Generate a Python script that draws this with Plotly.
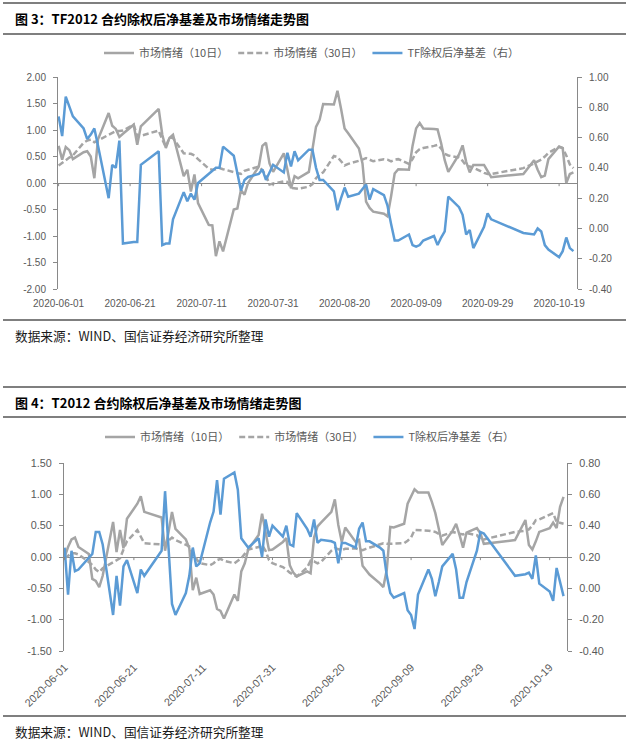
import plotly.graph_objects as go

# ---------------- data ----------------
dates = [
    "2020-06-01", "2020-06-02", "2020-06-03", "2020-06-04", "2020-06-05",
    "2020-06-08", "2020-06-09", "2020-06-10", "2020-06-11", "2020-06-12",
    "2020-06-15", "2020-06-16", "2020-06-17", "2020-06-18", "2020-06-19",
    "2020-06-22", "2020-06-23", "2020-06-24", "2020-06-29", "2020-06-30",
    "2020-07-01", "2020-07-02", "2020-07-03", "2020-07-06", "2020-07-07",
    "2020-07-08", "2020-07-09", "2020-07-10", "2020-07-13", "2020-07-14",
    "2020-07-15", "2020-07-16", "2020-07-17", "2020-07-20", "2020-07-21",
    "2020-07-22", "2020-07-23", "2020-07-24", "2020-07-27", "2020-07-28",
    "2020-07-29", "2020-07-30", "2020-07-31", "2020-08-03", "2020-08-04",
    "2020-08-05", "2020-08-06", "2020-08-07", "2020-08-10", "2020-08-11",
    "2020-08-12", "2020-08-13", "2020-08-14", "2020-08-17", "2020-08-18",
    "2020-08-19", "2020-08-20", "2020-08-21", "2020-08-24", "2020-08-25",
    "2020-08-26", "2020-08-27", "2020-08-28", "2020-08-31", "2020-09-01",
    "2020-09-02", "2020-09-03", "2020-09-04", "2020-09-07", "2020-09-08",
    "2020-09-09", "2020-09-10", "2020-09-11", "2020-09-14", "2020-09-15",
    "2020-09-16", "2020-09-17", "2020-09-18", "2020-09-21", "2020-09-22",
    "2020-09-23", "2020-09-24", "2020-09-25", "2020-09-28", "2020-09-29",
    "2020-09-30", "2020-10-09", "2020-10-12", "2020-10-13", "2020-10-14",
    "2020-10-15", "2020-10-16", "2020-10-19", "2020-10-20", "2020-10-21",
    "2020-10-22", "2020-10-23",
]

# Chart 1: TF2012
tf_mood10 = [
    0.70, 0.44, 0.68, 0.62, 0.45, 0.58, 0.60, 0.50, 0.09, 0.82,
    1.32, 1.08, 1.02, 0.87, 0.93, 1.10, 0.72, 1.07, 1.40, 0.91,
    0.66, 0.85, 0.91, 0.13, 0.25, -0.16, 0.16, -0.38, -0.79, -0.80,
    -1.38, -1.10, -1.29, -0.50, -0.48, -0.13, -0.22, 0.00, 0.31, 0.70,
    0.76, 0.37, 0.21, 0.56, 0.25, -0.10, 0.13, 0.09, 0.21, 0.60,
    1.06, 1.19, 1.49, 1.48, 1.74, 1.40, 1.03, 0.94, 0.65, 0.37,
    -0.35, -0.47, -0.54, -0.58, -0.63, -0.25, 0.18, 0.26, 0.25, 0.70,
    1.03, 1.13, 1.03, 1.02, 1.01, 0.75, 0.43, 0.21, 0.54, 0.71,
    0.40, 0.20, 0.34, 0.34, 0.22, 0.11, 0.17, 0.43, 0.25, 0.11,
    0.14, 0.45, 0.69, 0.66, 0.00, 0.17, 0.20,
]
tf_mood30 = [
    0.33, 0.38, 0.44, 0.48, 0.52, 0.76, 0.80, 0.82, 0.77, 0.80,
    0.91, 0.95, 0.98, 0.98, 0.99, 1.10, 0.88, 0.89, 0.99, 0.82,
    0.68, 0.86, 0.85, 0.56, 0.55, 0.55, 0.52, 0.45, 0.27, 0.25,
    0.26, 0.28, 0.26, 0.21, 0.18, 0.17, 0.23, 0.25, 0.31, 0.24,
    0.15, -0.03, -0.01, 0.03, 0.02, -0.09, -0.10, -0.11, -0.07, -0.02,
    0.09, 0.16, 0.20, 0.51, 0.49, 0.42, 0.33, 0.36, 0.41, 0.44,
    0.47, 0.44, 0.41, 0.45, 0.44, 0.41, 0.44, 0.45, 0.36, 0.45,
    0.58, 0.64, 0.66, 0.70, 0.72, 0.65, 0.55, 0.52, 0.48, 0.42,
    0.32, 0.31, 0.29, 0.19, 0.17, 0.17, 0.28, 0.37, 0.40, 0.44,
    0.50, 0.57, 0.68, 0.66, 0.52, 0.35, 0.28,
]
tf_basis = [
    0.74, 0.61, 0.87, 0.80, 0.74, 0.66, 0.59, 0.62, 0.66, 0.55,
    0.20, 0.42, 0.40, 0.58, -0.10, -0.09, -0.09, 0.42, 0.51, -0.11,
    -0.10, -0.10, 0.06, 0.24, 0.18, 0.23, 0.19, 0.30, 0.36, 0.38,
    0.40, 0.40, 0.54, 0.48, 0.37, 0.25, 0.32, 0.34, 0.36, 0.39,
    0.32, 0.37, 0.42, 0.37, 0.50, 0.41, 0.51, 0.45, 0.52, 0.52,
    0.40, 0.32, 0.32, 0.245, 0.12, 0.20, 0.27, 0.21, 0.23, 0.26,
    0.29, 0.19, 0.26, 0.22, 0.15, 0.03, -0.08, -0.08, -0.04, -0.11,
    -0.12, -0.11, -0.08, -0.05, -0.11, -0.06, -0.02, 0.21, 0.14, 0.09,
    -0.04, -0.01, -0.13, 0.01, 0.10, 0.06, -0.03, -0.04, 0.00, -0.02,
    -0.11, -0.14, -0.19, -0.15, -0.06, -0.13, -0.15,
]

# Chart 2: T2012
t_mood10 = [
    0.00, 0.16, 0.28, 0.31, 0.16, 0.05, -0.35, -0.38, -0.48, -0.30,
    0.56, 0.08, 0.43, 0.14, 0.61, 0.85, 0.97, 0.72, 0.63, 0.10,
    0.40, 0.72, 0.45, 0.28, 0.14, -0.53, -0.33, -0.59, -0.53, -0.60,
    -0.83, -0.86, -0.98, -0.60, -0.70, -0.23, -0.10, 0.12, 0.35, 0.69,
    0.40, 0.11, 0.12, 0.24, 0.30, -0.13, -0.25, -0.31, -0.23, -0.26,
    0.31, 0.49, 0.55, 0.72, 0.92, 0.51, 0.24, 0.47, 0.24, 0.27,
    -0.14, -0.22, -0.28, -0.42, -0.48, -0.20, 0.48, 0.47, 0.53, 0.85,
    0.98, 1.08, 1.03, 1.03, 0.88, 0.70, 0.45, 0.19, 0.42, 0.53,
    0.35, 0.15, 0.39, 0.46, 0.38, 0.21, 0.27, 0.59, 0.19, 0.12,
    0.25, 0.40, 0.46, 0.55, 0.46, 0.80, 0.96,
]
t_mood30 = [
    -0.02, 0.02, 0.06, 0.06, 0.04, -0.08, -0.13, -0.20, -0.24, -0.18,
    -0.08, -0.05, -0.02, 0.12, 0.25, 0.43, 0.33, 0.22, 0.20, 0.19,
    0.26, 0.31, 0.27, 0.20, 0.17, 0.05, -0.02, -0.10, -0.13, -0.10,
    -0.05, -0.03, -0.06, -0.10, -0.06, -0.02, 0.05, 0.12, 0.16, 0.19,
    0.10, -0.05, -0.10, -0.16, -0.20, -0.25, -0.28, -0.31, -0.17, -0.06,
    -0.07, -0.10, -0.08, 0.10, 0.14, 0.13, 0.11, 0.13, 0.14, 0.12,
    0.11, 0.13, 0.15, 0.20, 0.22, 0.21, 0.21, 0.21, 0.22, 0.26,
    0.31, 0.43, 0.43, 0.42, 0.41, 0.40, 0.37, 0.34, 0.40, 0.38,
    0.37, 0.36, 0.38, 0.35, 0.27, 0.28, 0.40, 0.42, 0.44, 0.50,
    0.59, 0.60, 0.67, 0.70, 0.56, 0.55, 0.53,
]
t_basis = [
    0.26, -0.04, 0.24, 0.11, 0.12, 0.20, 0.22, 0.36, 0.36, 0.28,
    -0.17, 0.08, -0.11, 0.14, 0.18, -0.03, 0.12, 0.08, 0.24, 0.62,
    0.26, -0.10, -0.17, -0.03, 0.08, 0.26, 0.14, 0.16, 0.42, 0.49,
    0.69, 0.47, 0.70, 0.74, 0.63, 0.32, 0.29, 0.26, 0.32, 0.20,
    0.44, 0.33, 0.40, 0.33, 0.40, 0.28, 0.27, 0.48, 0.38, 0.33,
    0.44, 0.29, 0.31, 0.30, 0.29, 0.16, 0.29, 0.29, 0.26, 0.38,
    0.42, 0.30, 0.30, 0.26, 0.24, 0.08, -0.03, -0.06, -0.03, -0.14,
    -0.17, -0.26, -0.04, 0.12, 0.06, -0.05, 0.04, 0.14, 0.22, 0.12,
    -0.06, -0.06, 0.04, 0.24, 0.36, 0.35, 0.08, 0.09, 0.10, 0.06,
    0.21, 0.03, -0.02, -0.08, 0.13, 0.04, -0.05,
]

tick_dates = ["2020-06-01", "2020-06-21", "2020-07-11", "2020-07-31",
              "2020-08-20", "2020-09-09", "2020-09-29", "2020-10-19"]
left1_ticks = [-2.0, -1.5, -1.0, -0.5, 0.0, 0.5, 1.0, 1.5, 2.0]
right1_ticks = [-0.4, -0.2, 0.0, 0.2, 0.4, 0.6, 0.8, 1.0]
left2_ticks = [-1.5, -1.0, -0.5, 0.0, 0.5, 1.0, 1.5]
right2_ticks = [-0.4, -0.2, 0.0, 0.2, 0.4, 0.6, 0.8]

names1 = ["市场情绪（10日）", "市场情绪（30日）", "TF除权后净基差（右）"]
names2 = ["市场情绪（10日）", "市场情绪（30日）", "T除权后净基差（右）"]
title1 = "图 3：TF2012 合约除权后净基差及市场情绪走势图"
title2 = "图 4：T2012 合约除权后净基差及市场情绪走势图"
source = "数据来源：WIND、国信证券经济研究所整理"

# ---------------- styling ----------------
W, H = 629, 742
GRAY = "#A5A5A5"
BLUE = "#5B9BD5"
AXIS = "#898989"
TXT = "#595959"
CJK = "Noto Sans CJK SC"
NUM = "Liberation Sans"
XRANGE = ["2020-05-31 20:00", "2020-10-24 00:00"]


def px(x):
    return x / W


def py(y):
    return 1 - y / H


fig = go.Figure()

line_w = 2.5
fig.add_trace(go.Scatter(x=dates, y=tf_mood10, name=names1[0], mode="lines",
                         line=dict(color=GRAY, width=line_w), xaxis="x", yaxis="y",
                         legend="legend"))
fig.add_trace(go.Scatter(x=dates, y=tf_mood30, name=names1[1], mode="lines",
                         line=dict(color=GRAY, width=line_w, dash="6px,3px"),
                         xaxis="x", yaxis="y", legend="legend"))
fig.add_trace(go.Scatter(x=dates, y=tf_basis, name=names1[2], mode="lines",
                         line=dict(color=BLUE, width=line_w), xaxis="x", yaxis="y2",
                         legend="legend"))

fig.add_trace(go.Scatter(x=dates, y=t_mood10, name=names2[0], mode="lines",
                         line=dict(color=GRAY, width=line_w), xaxis="x2", yaxis="y3",
                         legend="legend2"))
fig.add_trace(go.Scatter(x=dates, y=t_mood30, name=names2[1], mode="lines",
                         line=dict(color=GRAY, width=line_w, dash="6px,3px"),
                         xaxis="x2", yaxis="y3", legend="legend2"))
fig.add_trace(go.Scatter(x=dates, y=t_basis, name=names2[2], mode="lines",
                         line=dict(color=BLUE, width=line_w), xaxis="x2", yaxis="y4",
                         legend="legend2"))

tickfont1 = dict(family=NUM, size=10, color=TXT)
tickfont2 = dict(family=NUM, size=10.8, color=TXT)


def yax(domain, ticks, side, anchor, font, overlay=None, zero=False):
    d = dict(domain=domain, range=[ticks[0], ticks[-1]], tickvals=ticks,
             ticktext=[f"{v:.2f}" for v in ticks], side=side, anchor=anchor,
             showline=True, linecolor=AXIS, linewidth=1, ticks="outside",
             ticklen=4, tickcolor=AXIS, tickwidth=1, showgrid=False,
             zeroline=zero, zerolinecolor=AXIS, zerolinewidth=1,
             tickfont=font, ticklabelstandoff=5, fixedrange=True)
    if overlay:
        d["overlaying"] = overlay
    return d


def xax(domain, anchor, angle, font):
    return dict(domain=domain, anchor=anchor, type="date", range=XRANGE,
                tickvals=tick_dates, ticktext=tick_dates, tickangle=angle,
                showline=False, showgrid=False, zeroline=False, ticks="outside",
                ticklen=5, tickcolor="rgba(0,0,0,0)", tickfont=font,
                fixedrange=True)


c1_y = [py(289), py(77)]
c2_y = [py(651), py(463)]

legend_font = dict(family=CJK, size=11, color=TXT)

fig.update_layout(
    width=W, height=H, template="none",
    paper_bgcolor="white", plot_bgcolor="white",
    margin=dict(l=0, r=0, t=0, b=0),
    xaxis=xax([px(58), px(577)], "y", 0, tickfont1),
    yaxis=yax(c1_y, left1_ticks, "left", "x", tickfont1, zero=True),
    yaxis2=yax(c1_y, right1_ticks, "right", "x", tickfont1, overlay="y"),
    xaxis2=xax([px(64), px(567)], "y3", -45, tickfont2),
    yaxis3=yax(c2_y, left2_ticks, "left", "x2", tickfont2, zero=True),
    yaxis4=yax(c2_y, right2_ticks, "right", "x2", tickfont2, overlay="y3"),
    legend=dict(orientation="h", x=px(312), xanchor="center", y=py(53), yanchor="middle",
                font=legend_font, bgcolor="rgba(0,0,0,0)",
                itemwidth=30, traceorder="normal"),
    legend2=dict(orientation="h", x=px(310), xanchor="center", y=py(437), yanchor="middle",
                 font=legend_font, bgcolor="rgba(0,0,0,0)",
                 itemwidth=30, traceorder="normal"),
    showlegend=True,
)

# small tick marks on the date axes (drawn at the zero line)
shapes = []
for d in tick_dates:
    shapes.append(dict(type="line", xref="x", yref="y", x0=d, x1=d, y0=0, y1=-0.06,
                       line=dict(color=AXIS, width=1)))
    shapes.append(dict(type="line", xref="x2", yref="y3", x0=d, x1=d, y0=0, y1=-0.05,
                       line=dict(color=AXIS, width=1)))
# horizontal rules
for yy in [3, 34, 320, 387, 417, 716]:
    shapes.append(dict(type="line", xref="paper", yref="paper", x0=px(3), x1=px(626),
                       y0=py(yy), y1=py(yy), line=dict(color="#000000", width=1.2)))
fig.update_layout(shapes=shapes)

annotations = [
    dict(text=f"<b>{title1}</b>", x=px(13), y=py(19)),
    dict(text=f"<b>{title2}</b>", x=px(13), y=py(402)),
]
for a in annotations:
    a.update(xref="paper", yref="paper", xanchor="left", yanchor="middle",
             showarrow=False, font=dict(family=CJK, size=13, color="#000000"))
for yy in [335, 731]:
    annotations.append(dict(text=source, x=px(13), y=py(yy), xref="paper", yref="paper",
                            xanchor="left", yanchor="middle", showarrow=False,
                            font=dict(family=CJK, size=12.7, color="#1a1a1a")))
fig.update_layout(annotations=annotations)

fig.write_html("out.html", config={"displayModeBar": False},
               post_script="document.body.style.margin='0';document.body.style.overflow='hidden';")
